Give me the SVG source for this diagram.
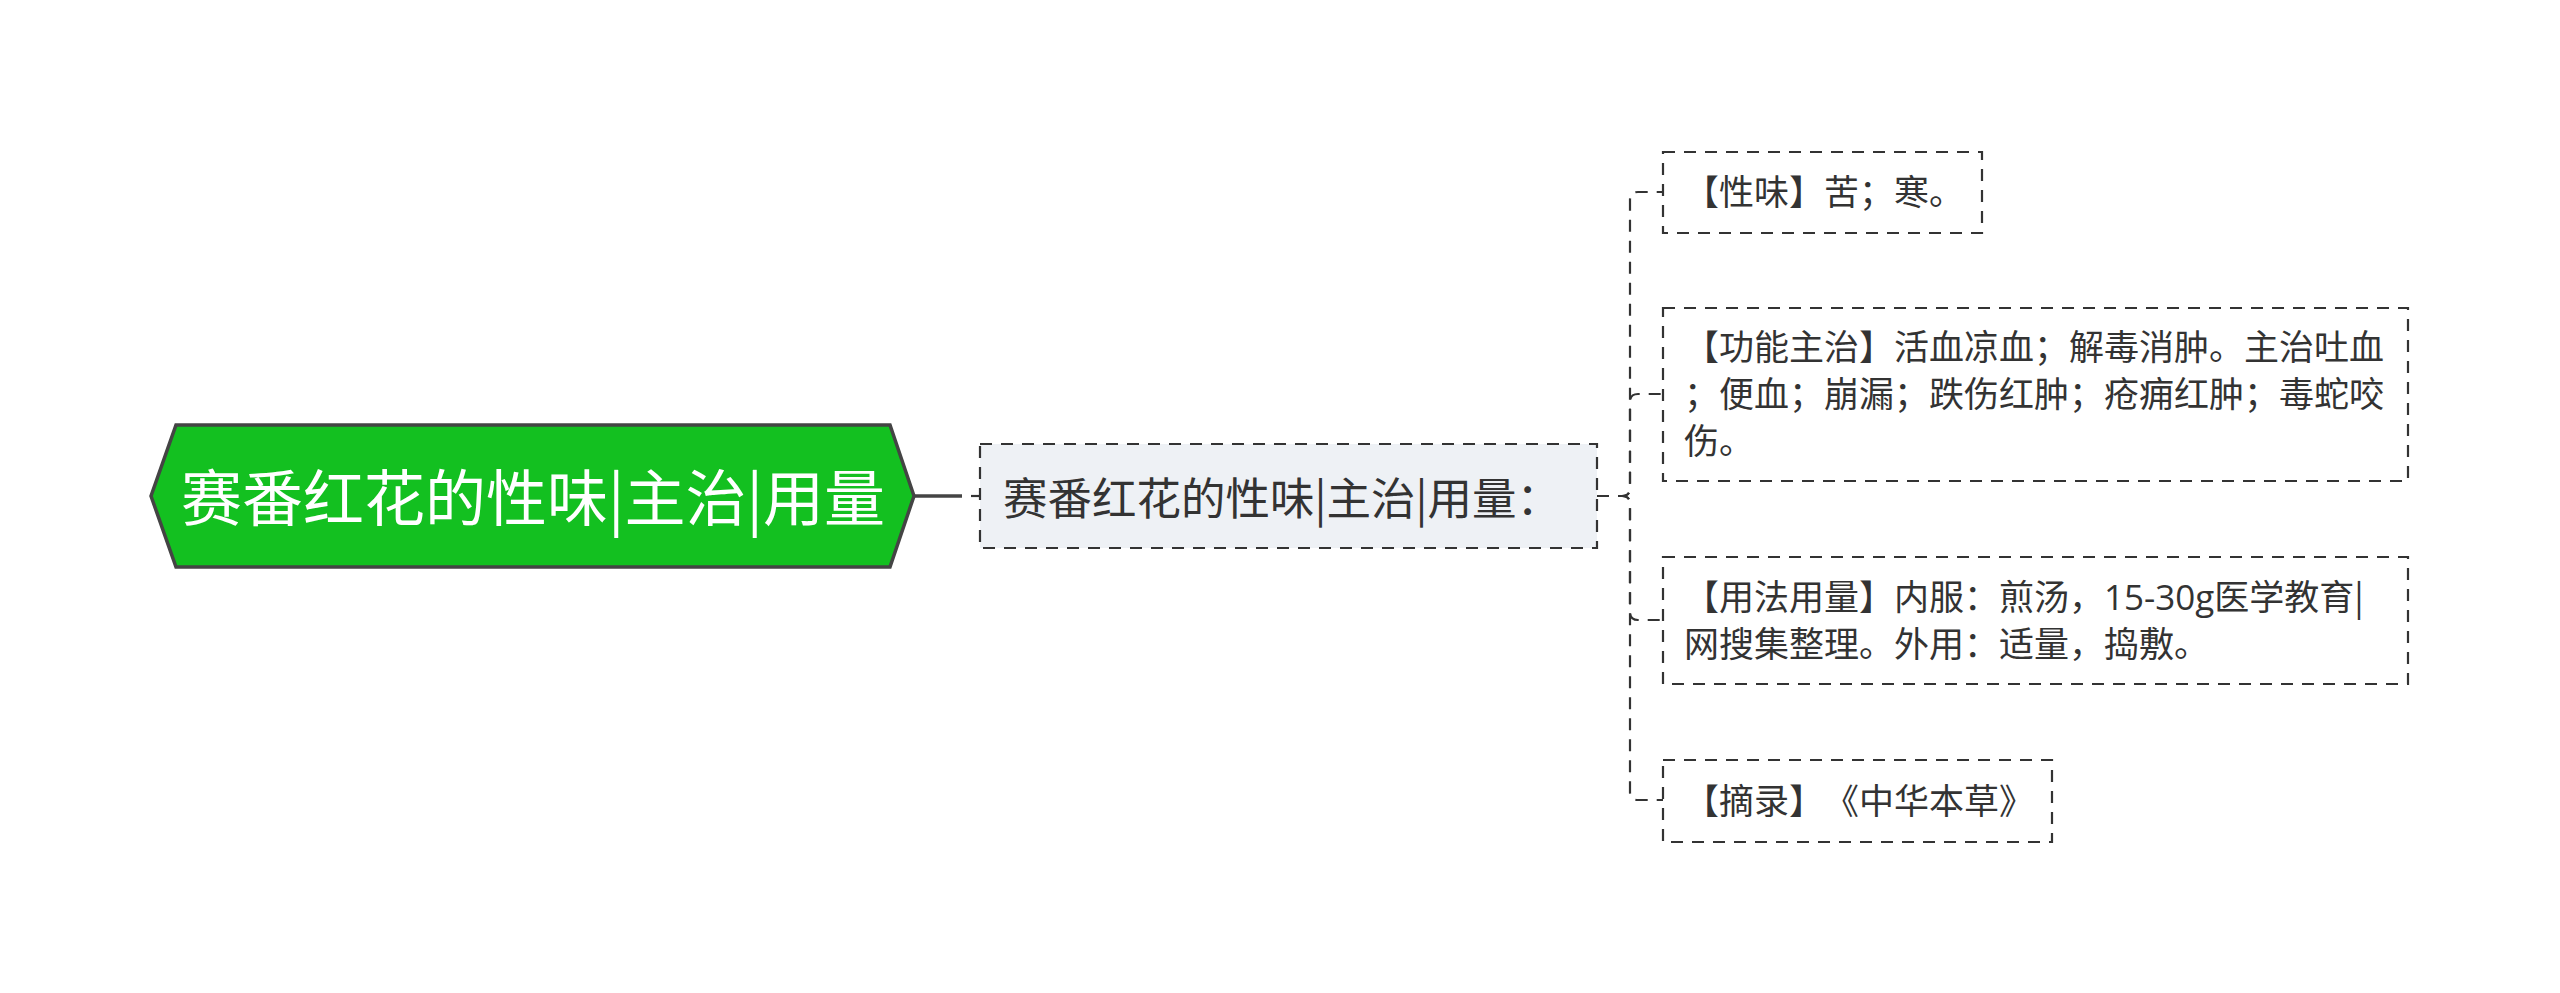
<svg xmlns="http://www.w3.org/2000/svg" width="2560" height="993" viewBox="0 0 2560 993">
<style>
text{text-spacing-trim:space-all}
.t{font-family:"Noto Sans CJK SC","Noto Sans",sans-serif;fill:#333333}
.leaf{fill:none;stroke:#333333;stroke-width:2.2;stroke-dasharray:12 9}
.conn{fill:none;stroke:#333333;stroke-width:2.2;stroke-dasharray:12 9}
.lt{font-size:35px}
.lat{font-family:"Open Sans","Noto Sans CJK SC",sans-serif}
</style>
<rect width="2560" height="993" fill="#ffffff"/>
<g id="connectors">
<line x1="914" y1="496" x2="962" y2="496" stroke="#444444" stroke-width="3.5"/>
<line x1="971" y1="496" x2="980" y2="496" stroke="#333333" stroke-width="2.2"/>
<path class="conn" d="M1597,496 H1622 Q1630,496 1630,488 V200 Q1630,192 1638,192 H1663"/>
<path class="conn" d="M1597,496 H1622 Q1630,496 1630,488 V402 Q1630,394 1638,394 H1663"/>
<path class="conn" d="M1597,496 H1622 Q1630,496 1630,504 V612 Q1630,620 1638,620 H1663"/>
<path class="conn" d="M1597,496 H1622 Q1630,496 1630,504 V792 Q1630,800 1638,800 H1663"/>
</g>
<g id="root">
<polygon points="151,496 176,425 890,425 914,496 890,567 176,567" fill="#13c020" stroke="#444444" stroke-width="3.5"/>
<text x="533" y="521" text-anchor="middle" font-family="Noto Sans CJK SC, Noto Sans, sans-serif" font-size="61" fill="#ffffff">赛番红花的性味|主治|用量</text>
</g>
<g id="child">
<rect x="980" y="444" width="617" height="104" fill="#eef1f5" stroke="#333333" stroke-width="2.2" stroke-dasharray="12 9"/>
<text class="t" x="1003" y="515" font-size="44.5">赛番红花的性味|主治|用量：</text>
</g>
<g id="leaf1">
<rect class="leaf" x="1663" y="152" width="319" height="81"/>
<text class="t lt" x="1684" y="205">【性味】苦；寒。</text>
</g>
<g id="leaf2">
<rect class="leaf" x="1663" y="308" width="745" height="173"/>
<text class="t lt" x="1684" y="360">【功能主治】活血凉血；解毒消肿。主治吐血</text>
<text class="t lt" x="1684" y="407">；便血；崩漏；跌伤红肿；疮痈红肿；毒蛇咬</text>
<text class="t lt" x="1684" y="454">伤。</text>
</g>
<g id="leaf3">
<rect class="leaf" x="1663" y="557" width="745" height="127"/>
<text class="t lt" x="1684" y="610">【用法用量】内服：煎汤，<tspan class="lat">15-30g</tspan>医学教育|</text>
<text class="t lt" x="1684" y="657">网搜集整理。外用：适量，捣敷。</text>
</g>
<g id="leaf4">
<rect class="leaf" x="1663" y="760" width="389" height="82"/>
<text class="t lt" x="1684" y="814">【摘录】《中华本草》</text>
</g>
</svg>
